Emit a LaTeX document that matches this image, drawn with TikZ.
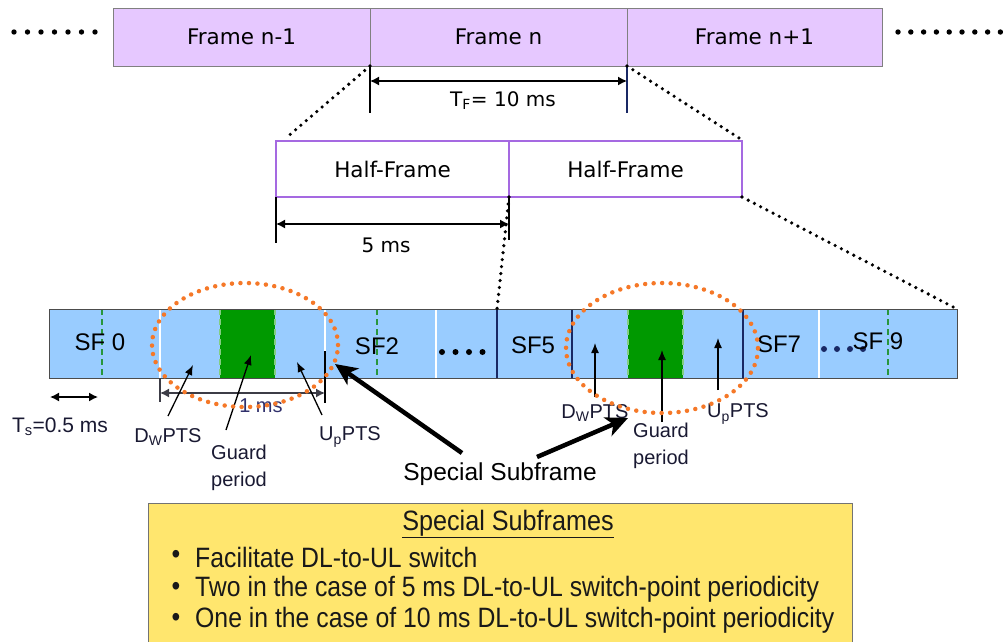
\documentclass[tikz,border=0pt]{standalone}
\usepackage{fontspec}
\setmainfont{Liberation Sans}
\newfontfamily\dvs{DejaVu Sans}
\usetikzlibrary{arrows.meta,calc}
\definecolor{framefill}{RGB}{230,200,255}
\definecolor{frameborder}{RGB}{128,128,128}
\definecolor{hfborder}{RGB}{165,105,225}
\definecolor{barfill}{RGB}{153,204,255}
\definecolor{gpgreen}{RGB}{0,153,0}
\definecolor{dashgreen}{RGB}{40,150,60}
\definecolor{gpedge}{RGB}{130,205,130}
\definecolor{navy}{RGB}{25,40,100}
\definecolor{orng}{RGB}{245,120,40}
\definecolor{boxyellow}{RGB}{255,230,110}
\definecolor{labelcol}{RGB}{25,25,50}
\definecolor{dimgray}{RGB}{60,60,70}
\begin{document}
\begin{tikzpicture}[x=1pt,y=-1pt,
  framecell/.style={draw=frameborder, fill=framefill, line width=1pt, minimum height=58pt, inner sep=0pt, outer sep=0pt, font=\dvs\fontsize{21.5}{25}\selectfont},
  hfcell/.style={draw=hfborder, fill=white, line width=1.2pt, minimum height=56pt, inner sep=0pt, outer sep=0pt, font=\dvs\fontsize{21.5}{25}\selectfont},
  sfcell/.style={fill=barfill, minimum height=69pt, inner sep=0pt, outer sep=0pt},
  gpcell/.style={fill=gpgreen, minimum height=69pt, inner sep=0pt, outer sep=0pt},
  sflabel/.style={inner sep=0pt, font=\fontsize{24}{28}\selectfont},
  lbl/.style={inner sep=1pt, text=labelcol, font=\fontsize{20}{27}\selectfont, align=center},
  dimlbl/.style={inner sep=1pt, font=\dvs\fontsize{20}{24}\selectfont},
  dotline/.style={line width=3.6pt, dash pattern=on 0pt off 7pt, line cap=round},
  orangeloop/.style={draw=orng, line width=4.5pt, dash pattern=on 0pt off 8.5pt, line cap=round},
  dim/.style={line width=1.4pt, {Latex[length=9pt,width=9pt]}-{Latex[length=9pt,width=9pt]}},
  thinarrow/.style={line width=1.3pt, -{Latex[length=10pt,width=8pt]}},
  bigarrow/.style={line width=4.5pt, -{Stealth[length=22pt,width=20pt,inset=6pt]}},
  whitesep/.style={white, line width=2.5pt},
  navysep/.style={navy, line width=2.5pt},
  greendash/.style={dashgreen, line width=2pt, dash pattern=on 6pt off 4pt},
  gpdash/.style={gpedge, line width=1.5pt, dash pattern=on 6pt off 4pt},
  boxtext/.style={inner sep=0pt, text=black!90, font=\fontsize{28}{32}\selectfont}
]
\useasboundingbox (0,0) rectangle (1003,641);

% ---- top frames
\node[framecell, minimum width=257pt] (f1) at (241.5,37) {Frame n-1};
\node[framecell, minimum width=257pt] (f2) at (498.5,37) {Frame n};
\node[framecell, minimum width=255pt] (f3) at (754.5,37) {Frame n+1};
\foreach \i in {0,...,6} \fill (14+13.5*\i,32) circle[radius=2.7pt];
\foreach \i in {0,...,8} \fill (898+12.8*\i,32) circle[radius=2.7pt];

% ---- half frames
\node[hfcell, minimum width=233pt] (hf1) at (392.5,169) {Half-Frame};
\node[hfcell, minimum width=233pt] (hf2) at (625.5,169) {Half-Frame};

% T_F dimension
\draw[line width=1.4pt] (f2.south west) -- ++(0,47);
\draw[navysep, line width=1.6pt] (f2.south east) -- ++(0,47);
\draw[dim] ([yshift=-15pt]f2.south west) -- ([yshift=-15pt]f2.south east);
\node[dimlbl] (tf) at (503,101) {T\textsubscript{F}= 10 ms};

% zoom dotted lines (frame -> half frames)
\draw[dotline] (f2.south west) -- ([xshift=10pt,yshift=3pt]hf1.north west);
\draw[dotline] (f3.south west) -- ([xshift=-3pt,yshift=3pt]hf2.north east);

% 5 ms dimension
\draw[line width=1.4pt] (hf1.south west) -- ++(0,46);
\draw[line width=1.4pt] (hf1.south east) -- ++(0,43);
\draw[dim] ([yshift=-27pt]hf1.south west) -- ([yshift=-27pt]hf1.south east);
\node[dimlbl] (fivems) at (386,245) {5 ms};

% ---- subframe bar
\node[sfcell, minimum width=111pt] (sf0) at (104.5,343.5) {};
\node[sfcell, minimum width=60pt]  (dw1) at (190,343.5) {};
\node[gpcell, minimum width=55pt]  (gp1) at (247.5,343.5) {};
\node[sfcell, minimum width=50pt]  (up1) at (300,343.5) {};
\node[sfcell, minimum width=111pt] (sf2) at (380.5,343.5) {};
\node[sfcell, minimum width=61pt]  (sfd) at (466.5,343.5) {};
\node[sfcell, minimum width=75pt]  (sf5) at (534.5,343.5) {};
\node[sfcell, minimum width=56pt]  (dw2) at (600,343.5) {};
\node[gpcell, minimum width=55pt]  (gp2) at (655.5,343.5) {};
\node[sfcell, minimum width=60pt]  (up2) at (713,343.5) {};
\node[sfcell, minimum width=76pt]  (sf7) at (781,343.5) {};
\node[sfcell, minimum width=138pt] (sf9) at (888,343.5) {};

% separators
\foreach \c in {sf0,up1,sf2,sf7} \draw[whitesep] (\c.north east) -- (\c.south east);
\foreach \c in {sfd,sf5,up2} \draw[navysep] (\c.north east) -- (\c.south east);
\draw[greendash] ([xshift=-2.5pt]sf0.north) -- ([xshift=-2.5pt]sf0.south);
\draw[greendash] ([xshift=-3.5pt]sf2.north) -- ([xshift=-3.5pt]sf2.south);
\draw[greendash] (sf9.north) -- (sf9.south);
\foreach \c in {gp1,gp2} {
  \draw[gpdash] (\c.north west) -- (\c.south west);
  \draw[gpdash] (\c.north east) -- (\c.south east);
}
\draw[line width=1pt, black!70] (sf0.north west) rectangle (sf9.south east);

% zoom dotted lines (half frame -> bar)
\draw[dotline] (hf2.south west) -- (sf5.north west);
\draw[dotline] (hf2.south east) -- (sf9.north east);

% bar labels
\node[sflabel] (l0) at (100,342) {SF 0};
\node[sflabel] (l2) at (377,346) {SF2};
\foreach \i in {0,...,3} \fill (442+13.5*\i,352) circle[radius=3pt];
\node[sflabel] (l5) at (533,345) {SF5};
\node[sflabel] (l7) at (779,344) {SF7};
\foreach \i in {0,...,3} \fill[navy] (824+13*\i,349) circle[radius=3pt];
\node[sflabel] (l9) at (878,341) {SF 9};

% 1 ms dimension
\draw[line width=1.3pt, dimgray] (dw1.south west) -- ++(0,24);
\draw[line width=1.3pt] (up1.south east) ++(0,-27) -- ++(0,52);
\draw[dim, dimgray] ([yshift=-15pt]dw1.south west) -- ([yshift=-15pt]up1.south east);
\node[lbl, text=dimgray!80!blue] (onems) at (261,406) {1 ms};

% Ts dimension
\coordinate (tsL) at (50,397);
\coordinate (tsR) at (98,397);
\draw[dim] (tsL) -- (tsR);
\node[lbl, font=\fontsize{21}{27}\selectfont] (ts) at (60,427) {T\textsubscript{s}=0.5 ms};

% labels left special subframe
\node[lbl] (dwl) at (168,437) {D\textsubscript{W}PTS};
\node[lbl] (gpl) at (239,468) {Guard\\period};
\node[lbl] (upl) at (350,437) {U\textsubscript{p}PTS};
\coordinate (dwlt) at (168,416); \coordinate (dwlh) at (193,365);
\coordinate (gplt) at (226,430); \coordinate (gplh) at (251,355);
\coordinate (uplt) at (322,415); \coordinate (uplh) at (297,362);
\draw[thinarrow] (dwlt) -- (dwlh);
\draw[thinarrow] (gplt) -- (gplh);
\draw[thinarrow] (uplt) -- (uplh);

% labels right special subframe
\node[lbl] (dwr) at (595,413) {D\textsubscript{W}PTS};
\node[lbl] (gpr) at (661,446) {Guard\\period};
\node[lbl] (upr) at (738,414) {U\textsubscript{p}PTS};
\coordinate (dwrt) at (595,397); \coordinate (dwrh) at (595,343);
\coordinate (gprt) at (662,422); \coordinate (gprh) at (662,350);
\coordinate (uprt) at (718,390); \coordinate (uprh) at (718,338);
\draw[thinarrow] (dwrt) -- (dwrh);
\draw[thinarrow] (gprt) -- (gprh);
\draw[thinarrow] (uprt) -- (uprh);

% orange ellipses
\draw[orangeloop] (245,345) ellipse [x radius=93pt, y radius=62pt];
\draw[orangeloop] (662,348) ellipse [x radius=96pt, y radius=65pt];

% special subframe label and arrows
\node[inner sep=1pt, font=\fontsize{24.5}{28}\selectfont] (ssf) at (500,474) {Special Subframe};
\coordinate (ssl) at (462,453); \coordinate (sslh) at (335,364);
\coordinate (ssr) at (537,457); \coordinate (ssrh) at (628,418);
\draw[bigarrow] (ssl) -- (sslh);
\draw[bigarrow] (ssr) -- (ssrh);

% ---- bottom box
\node[draw=black!55, line width=1pt, fill=boxyellow, minimum width=704pt, minimum height=150pt, anchor=north west, inner sep=0pt] (sbox) at (148,503) {};
\node[boxtext] (stitle) at (508,524) {\scalebox{0.9}[1]{\underline{Special Subframes}}};
\node[boxtext, anchor=center] (bu1) at (176,557) {\scalebox{0.885}[1]{•}};
\node[boxtext, anchor=center] (bu2) at (176,589) {\scalebox{0.885}[1]{•}};
\node[boxtext, anchor=center] (bu3) at (176,620) {\scalebox{0.885}[1]{•}};
\node[boxtext, anchor=west] (t1) at (195,557) {\scalebox{0.885}[1]{Facilitate DL-to-UL switch}};
\node[boxtext, anchor=west] (t2) at (195,589) {\scalebox{0.885}[1]{Two in the case of 5 ms DL-to-UL switch-point periodicity}};
\node[boxtext, anchor=west] (t3) at (195,620) {\scalebox{0.885}[1]{One in the case of 10 ms DL-to-UL switch-point periodicity}};
\end{tikzpicture}
\end{document}
